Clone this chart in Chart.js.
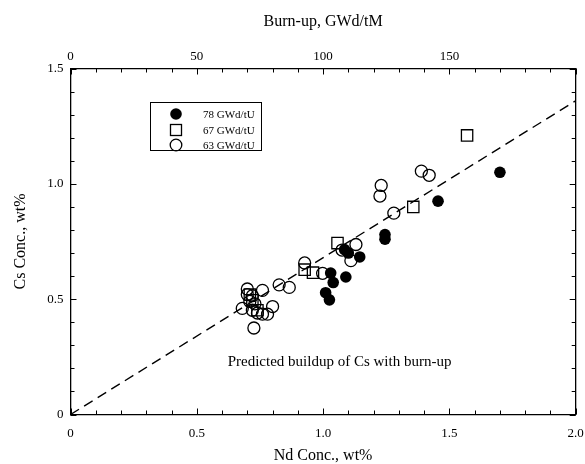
<!DOCTYPE html>
<html>
<head>
<meta charset="utf-8">
<script src="https://cdn.jsdelivr.net/npm/chart.js@4/dist/chart.umd.min.js"></script>
<style>
  body { margin: 0; background: #fff; }
  canvas { display: block; }
</style>
</head>
<body>
<canvas id="csChart" width="585" height="464"></canvas>
<script>
// Nd conc. (wt%) vs Cs conc. (wt%)
const burn78 = [
    [1.70, 1.05], [1.455, 0.925], [1.245, 0.78], [1.245, 0.76],
    [1.085, 0.715], [1.10, 0.70], [1.145, 0.683], [1.03, 0.613],
    [1.09, 0.596], [1.04, 0.572], [1.01, 0.528], [1.025, 0.497]
];
const burn67 = [
    [1.57, 1.21], [1.357, 0.90], [1.057, 0.743], [0.927, 0.628],
    [0.96, 0.615], [0.71, 0.52], [0.72, 0.495], [0.74, 0.452]
];
const burn63 = [
    [1.389, 1.055], [1.42, 1.037], [1.23, 0.993], [1.225, 0.947],
    [1.28, 0.873], [1.13, 0.737], [1.075, 0.713], [1.11, 0.667],
    [0.927, 0.657], [0.998, 0.612], [0.826, 0.562], [0.866, 0.551],
    [0.70, 0.544], [0.76, 0.538], [0.70, 0.52], [0.72, 0.515],
    [0.71, 0.49], [0.73, 0.48], [0.72, 0.452], [0.74, 0.44],
    [0.68, 0.46], [0.80, 0.468], [0.78, 0.435], [0.76, 0.435],
    [0.726, 0.375]
];
// predicted buildup line end points
const predicted = [[0, 0], [2.0, 1.36]];

const legendLabels = ['78 GWd/tU', '67 GWd/tU', '63 GWd/tU'];
const xTicks = [0, 0.5, 1.0, 1.5, 2.0];
const yTicks = [0, 0.5, 1.0, 1.5];
const topTicks = [0, 50, 100, 150];

const serif = '"Liberation Serif", "DejaVu Serif", serif';

function toPoints(arr) {
    return arr.map(p => ({ x: p[0], y: p[1] }));
}

function fmt(v) {
    return v === 0 ? '0' : v.toFixed(1);
}

// keep the plot box fixed, label overflow is allowed to clip
function fixHeight(h) {
    return sc => { sc.height = h; sc.paddingLeft = 0; sc.paddingRight = 0; };
}
function fixWidth(w) {
    return sc => { sc.width = w; sc.paddingTop = 0; sc.paddingBottom = 0; };
}

// inward tick marks on all four sides
const tickMarks = {
    id: 'tickMarks',
    afterDraw(chart) {
        const c = chart.ctx;
        const a = chart.chartArea;
        const s = chart.scales;
        c.save();
        c.strokeStyle = '#000';
        c.lineWidth = 1;
        c.beginPath();
        for (let i = 0; i <= 20; i++) {
            const v = i / 10;
            const px = Math.round(s.x.getPixelForValue(v)) + 0.5;
            const len = i % 5 === 0 ? 6 : 4;
            c.moveTo(px, a.bottom); c.lineTo(px, a.bottom - len);
        }
        for (let i = 0; i <= 20; i++) {
            const px = Math.round(s.x2.getPixelForValue(i * 10)) + 0.5;
            const len = i % 5 === 0 ? 6 : 4;
            c.moveTo(px, a.top); c.lineTo(px, a.top + len);
        }
        for (let i = 0; i <= 15; i++) {
            const v = i / 10;
            const py = Math.round(s.y.getPixelForValue(v)) + 0.5;
            const len = i % 5 === 0 ? 6 : 4;
            c.moveTo(a.left, py); c.lineTo(a.left + len, py);
            c.moveTo(a.right, py); c.lineTo(a.right - len, py);
        }
        c.stroke();
        c.restore();
    }
};

// boxed legend and the note on the dashed line
const boxLegend = {
    id: 'boxLegend',
    afterDatasetsDraw(chart) {
        const c = chart.ctx;
        const s = chart.scales;
        c.save();
        c.strokeStyle = '#000';
        c.lineWidth = 1;
        c.strokeRect(150.5, 102.5, 111, 48);

        const mx = 176, rows = [114, 130, 145];
        c.fillStyle = '#000';
        c.beginPath(); c.arc(mx, rows[0], 5.8, 0, Math.PI * 2); c.fill();
        c.lineWidth = 1.3;
        c.strokeRect(mx - 5.5, rows[1] - 5.5, 11, 11);
        c.beginPath(); c.arc(mx, rows[2], 5.8, 0, Math.PI * 2); c.stroke();

        c.font = '11px ' + serif;
        c.textAlign = 'left';
        c.textBaseline = 'middle';
        legendLabels.forEach((t, i) => c.fillText(t, 203, rows[i] + 1));

        c.font = '15px ' + serif;
        c.textAlign = 'center';
        c.fillText('Predicted buildup of Cs with burn-up',
            s.x.getPixelForValue(1.065), s.y.getPixelForValue(0.228));
        c.restore();
    }
};

new Chart(document.getElementById('csChart'), {
    type: 'scatter',
    data: {
        datasets: [{
            label: 'Predicted',
            data: toPoints(predicted),
            showLine: true,
            borderColor: '#000',
            borderWidth: 1.4,
            borderDash: [10, 6],
            pointRadius: 0,
            order: 3
        }, {
            label: legendLabels[0],
            data: toPoints(burn78),
            pointStyle: 'circle',
            pointRadius: 5.8,
            backgroundColor: '#000',
            borderColor: '#000',
            borderWidth: 0,
            order: 0
        }, {
            label: legendLabels[1],
            data: toPoints(burn67),
            pointStyle: 'rect',
            pointRadius: 8,
            backgroundColor: 'rgba(0,0,0,0)',
            borderColor: '#000',
            borderWidth: 1.3,
            order: 1
        }, {
            label: legendLabels[2],
            data: toPoints(burn63),
            pointStyle: 'circle',
            pointRadius: 6,
            backgroundColor: 'rgba(0,0,0,0)',
            borderColor: '#000',
            borderWidth: 1.3,
            order: 2
        }]
    },
    options: {
        responsive: false,
        animation: false,
        layout: { padding: 0 },
        plugins: {
            legend: { display: false },
            tooltip: { enabled: false }
        },
        scales: {
            x: {
                type: 'linear',
                position: 'bottom',
                min: 0, max: 2,
                afterBuildTicks: sc => { sc.ticks = xTicks.map(v => ({ value: v })); },
                afterFit: fixHeight(49.5),
                grid: { display: false, drawTicks: false },
                border: { color: '#000', width: 1.3 },
                ticks: {
                    color: '#000', padding: 11, maxRotation: 0,
                    font: { family: serif, size: 13 },
                    callback: v => fmt(v)
                },
                title: {
                    display: true, text: 'Nd Conc., wt%', color: '#000',
                    font: { family: serif, size: 16, lineHeight: 1 },
                    padding: { top: 0, bottom: 0 }
                }
            },
            x2: {
                type: 'linear',
                position: 'top',
                min: 0, max: 200,
                afterBuildTicks: sc => { sc.ticks = topTicks.map(v => ({ value: v })); },
                afterFit: fixHeight(68.5),
                grid: { display: false, drawTicks: false },
                border: { color: '#000', width: 1.3 },
                ticks: {
                    color: '#000', padding: 4, maxRotation: 0,
                    font: { family: serif, size: 13 }
                },
                title: {
                    display: true, text: 'Burn-up, GWd/tM', color: '#000',
                    font: { family: serif, size: 16, lineHeight: 1 },
                    padding: { top: 14, bottom: 0 }
                }
            },
            y: {
                type: 'linear',
                position: 'left',
                min: 0, max: 1.5,
                afterBuildTicks: sc => { sc.ticks = yTicks.map(v => ({ value: v })); },
                afterFit: fixWidth(70.5),
                grid: { display: false, drawTicks: false },
                border: { color: '#000', width: 1.3 },
                ticks: {
                    color: '#000', padding: 7,
                    font: { family: serif, size: 13 },
                    callback: v => fmt(v)
                },
                title: {
                    display: true, text: 'Cs Conc., wt%', color: '#000',
                    font: { family: serif, size: 16, lineHeight: 1 },
                    padding: { top: 13, bottom: 0 }
                }
            },
            y2: {
                type: 'linear',
                position: 'right',
                min: 0, max: 1.5,
                afterFit: fixWidth(8),
                grid: { display: false, drawTicks: false },
                border: { color: '#000', width: 1.3 },
                ticks: { display: false }
            }
        }
    },
    plugins: [tickMarks, boxLegend]
});
</script>
</body>
</html>
